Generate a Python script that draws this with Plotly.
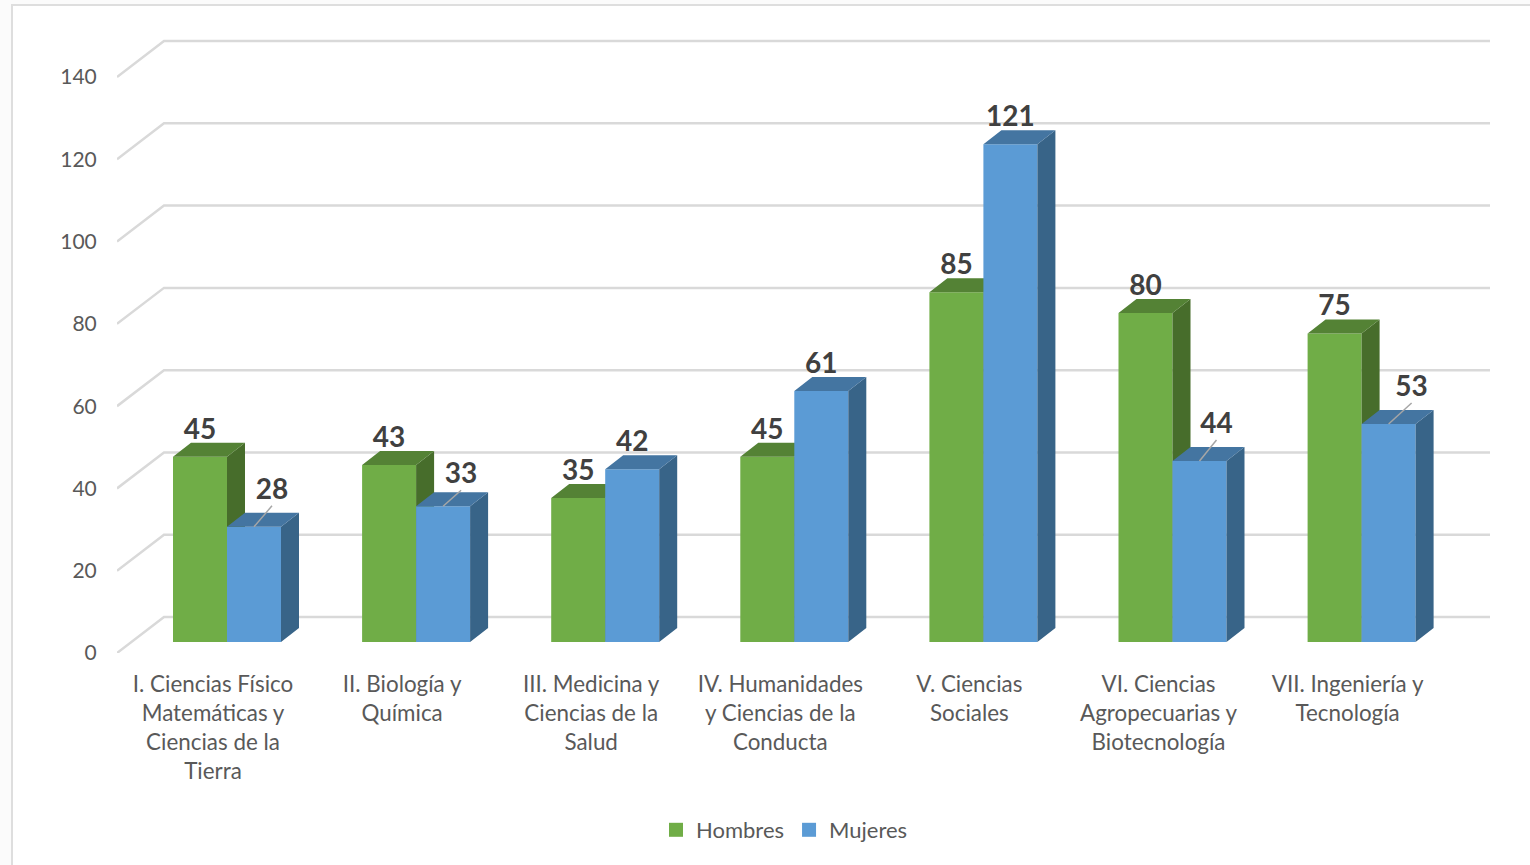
import plotly.graph_objects as go

categories = [
    "I. Ciencias Físico<br>Matemáticas y<br>Ciencias de la<br>Tierra",
    "II. Biología y<br>Química",
    "III. Medicina y<br>Ciencias de la<br>Salud",
    "IV. Humanidades<br>y Ciencias de la<br>Conducta",
    "V. Ciencias<br>Sociales",
    "VI. Ciencias<br>Agropecuarias y<br>Biotecnología",
    "VII. Ingeniería y<br>Tecnología",
]
hombres = [45, 43, 35, 45, 85, 80, 75]
mujeres = [28, 33, 42, 61, 121, 44, 53]
y_ticks = [0, 20, 40, 60, 80, 100, 120, 140]

# page geometry (pixels)
W, H = 1530, 865
L, R, T, B = 117, 1490, 30, 653
PXX, PXY = 189.1, 4.114      # pixels per category / per unit
X0 = 213                     # pixel of first category centre
xr = [(L - X0) / PXX, (R - X0) / PXX]
yr = [0, (B - T) / PXY]
dx = lambda p: p / PXX
dy = lambda p: p / PXY

GRID = "#D9D9D9"
TXT = "#595959"
LBL = "#404040"
FONT = "Lato"

fig = go.Figure()

# back wall + floor-side gridlines
gx, gy = [], []
for v in y_ticks:
    gx += [xr[0], xr[0] + dx(47), xr[1], None]
    gy += [v, v + dy(36), v + dy(36), None]
fig.add_trace(go.Scatter(x=gx, y=gy, mode="lines", line=dict(color=GRID, width=2.5),
                         hoverinfo="skip", showlegend=False))


def series(vals, centre, front, side, top, xa, ya, name):
    base = dy(11)
    w = 54
    xs = [i + dx(centre) for i in range(len(vals))]
    fig.add_trace(go.Bar(x=xs, y=vals, base=base, width=dx(w), marker=dict(color=front, line=dict(color=front, width=0)),
                         xaxis=xa, yaxis=ya, showlegend=False, name=name))
    sx, sy, tx, ty = [], [], [], []
    for x, v in zip(xs, vals):
        xl, xrt = x - dx(w / 2), x + dx(w / 2)
        b, t = base, base + v
        sx += [xrt, xrt + dx(18), xrt + dx(18), xrt, xrt, None]
        sy += [b, b + dy(14), t + dy(14), t, b, None]
        tx += [xl, xl + dx(18), xrt + dx(18), xrt, xl, None]
        ty += [t, t + dy(14), t + dy(14), t, t, None]
    for px, py, col in ((sx, sy, side), (tx, ty, top)):
        fig.add_trace(go.Scatter(x=px, y=py, mode="lines", fill="toself", fillcolor=col,
                                 line=dict(width=0, color=col), xaxis=xa, yaxis=ya,
                                 hoverinfo="skip", showlegend=False))
    fig.add_trace(go.Scatter(x=[None], y=[None], mode="markers", name=name,
                             marker=dict(symbol="square", size=14, color=front),
                             xaxis=xa, yaxis=ya))
    return xs


xh = series(hombres, -13, "#70AD47", "#476D2B", "#548235", "x2", "y2", "Hombres")
xm = series(mujeres, 41, "#5B9BD5", "#386488", "#4475A1", "x3", "y3", "Mujeres")

# data labels: Mujeres labels pulled away from short bars carry a leader line
pulled = {0: (18, 39), 1: (18, 34), 5: (17, 39), 6: (23, 39)}
lx, ly = [], []
for i, v in pulled.items():
    x = xm[i]
    t = dy(11) + mujeres[i]
    lx += [x, x + dx(v[0]), None]
    ly += [t, t + dy(v[1] - 20 + 2), None]
fig.add_trace(go.Scatter(x=lx, y=ly, mode="lines", line=dict(color="#A6A6A6", width=1.5),
                         xaxis="x3", yaxis="y3", hoverinfo="skip", showlegend=False))

SHIFT = 4
tx = [x for x in xh]
ty = [dy(11) + v + dy(29 - SHIFT) for v in hombres]
txts = [str(v) for v in hombres]
for i, v in enumerate(mujeres):
    ox, oy = pulled.get(i, (0, 29))
    tx.append(xm[i] + dx(ox))
    ty.append(dy(11) + v + dy(oy - SHIFT))
    txts.append(str(v))
fig.add_trace(go.Scatter(x=tx, y=ty, text=txts, mode="text", textposition="middle center",
                         textfont=dict(family=FONT, size=28, color=LBL, weight="bold"),
                         xaxis="x3", yaxis="y3", hoverinfo="skip", showlegend=False))

over = dict(overlaying="x", range=xr, visible=False)
overy = dict(overlaying="y", range=yr, visible=False)
px_to_paper_x = lambda p: (p - L) / (R - L)
px_to_paper_y = lambda p: (B - p) / (B - T)

fig.update_layout(
    width=W, height=H,
    margin=dict(l=L, r=W - R, t=T, b=H - B, autoexpand=False),
    paper_bgcolor="#FBFBFB", plot_bgcolor="rgba(0,0,0,0)",
    font=dict(family=FONT, size=22, color=TXT),
    barmode="overlay",
    xaxis=dict(range=xr, tickmode="array", tickvals=list(range(7)), ticktext=categories,
               ticks="outside", ticklen=11, tickcolor="rgba(0,0,0,0)", showgrid=False,
               zeroline=False, showline=False, tickfont=dict(size=22.4, color=TXT)),
    yaxis=dict(range=yr, tickmode="array", tickvals=y_ticks, ticks="outside", ticklen=15,
               tickcolor="rgba(0,0,0,0)", showgrid=False, zeroline=False, showline=False,
               tickfont=dict(size=21, color=TXT)),
    xaxis2=over, yaxis2=overy, xaxis3=over, yaxis3=overy,
    legend=dict(orientation="h", x=px_to_paper_x(656), y=px_to_paper_y(830), yanchor="middle",
                xanchor="left", font=dict(size=22, color=TXT), itemwidth=30,
                bgcolor="rgba(0,0,0,0)"),
    shapes=[dict(type="rect", xref="paper", yref="paper",
                 x0=px_to_paper_x(12), x1=px_to_paper_x(1560),
                 y0=px_to_paper_y(5), y1=px_to_paper_y(900),
                 fillcolor="white", line=dict(color="#DEDEDE", width=2), layer="below")],
)
fig.write_html("out.html", config={"displayModeBar": False},
               post_script="document.body.style.margin='0';")
